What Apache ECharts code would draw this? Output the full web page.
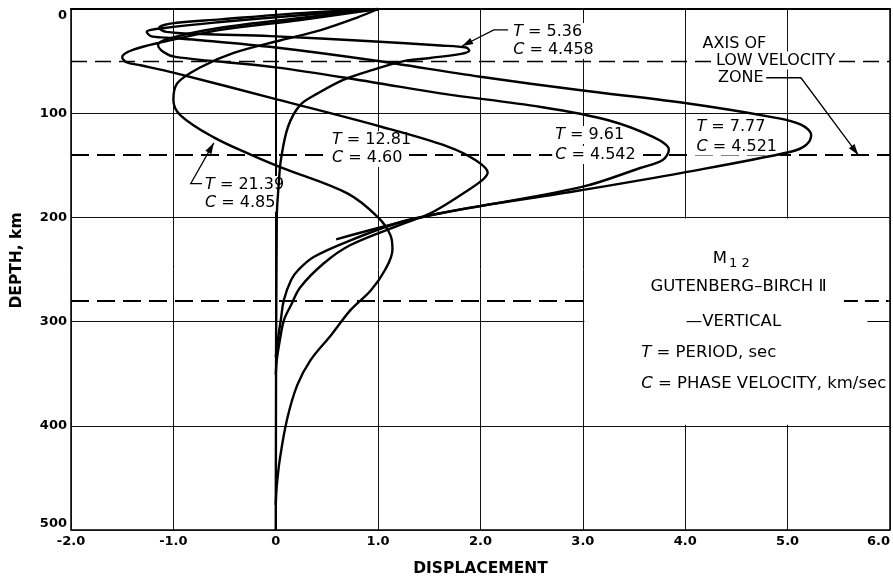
<!DOCTYPE html>
<html><head><meta charset="utf-8">
<script src="https://cdn.jsdelivr.net/npm/echarts@6/dist/echarts.min.js"></script>
<style>html,body{margin:0;padding:0;background:#fff}#c{width:893px;height:577px}</style>
</head><body><div id="c"></div>
<script>
// ---- data (displacement, depth km) ----
const xTickValues = [-2, -1, 0, 1, 2, 3, 4, 5, 6];
const yTickValues = [0, 100, 200, 300, 400, 500];
const dashedDepths = [50, 140, 280];

const curveT536 = [[1.0,0],[0.24,4],[-0.54,10],[-1.03,14],[-1.14,18],[-1.07,22],[-0.73,24],[-0.05,26],[0.93,31],[1.61,35],[1.86,37],[1.89,40],[1.81,43],[1.51,47],[1.25,50],[0.93,59],[0.66,68],[0.41,81],[0.24,92],[0.12,113],[0.05,145],[0.03,167],[0.01,200],[0,500]];
const curveT777 = [[1.0,0],[0.24,6],[-0.54,12.5],[-1.07,18],[-1.26,22],[-1.22,26],[-1.07,27.5],[-0.73,30],[0,37],[0.93,49],[2.0,65],[2.98,78],[3.98,90],[4.86,104],[5.13,111],[5.23,121],[5.18,130.5],[5.03,137],[3.98,157],[2.98,174],[1.61,196],[0.59,221]];
const curveT961 = [[1.0,0],[0.24,8.6],[-0.54,18],[-1.03,28],[-1.15,34.5],[-1.10,41],[-0.98,46],[0,56],[0.93,70],[1.61,81],[2.59,94],[3.24,106.5],[3.69,123],[3.84,135],[3.78,145],[3.56,152.6],[2.98,171],[1.61,196],[1.22,204.4],[0.73,222],[0.37,238],[0.22,250.5],[0.15,260],[0.08,279],[0.05,298],[0.02,318],[0,334]];
const curveT1281 = [[1.0,0],[0.24,10.5],[-0.54,20],[-1.12,32],[-1.39,39],[-1.5,46],[-1.46,51],[-1.32,54],[-1.0,61],[0.02,87],[1.03,113],[1.68,132],[1.95,145],[2.07,157],[2.02,164],[1.83,177],[1.51,196],[1.22,207],[0.73,226.5],[0.47,244],[0.24,267],[0.15,284],[0.08,298.5],[0.04,318],[0.01,337],[0,351]];
const curveT2139 = [[1.0,0],[0.8,8],[0.44,20.2],[0.05,30],[-0.41,42.2],[-0.73,55.7],[-0.96,71],[-1.0,87],[-0.93,102],[-0.61,123],[-0.24,140],[0.05,152],[0.70,177],[1.0,200],[1.12,217],[1.14,231],[1.07,250],[0.93,270],[0.73,289],[0.54,313],[0.34,337],[0.21,361],[0.11,394],[0.04,432],[0.01,458],[0,476]];

// ---- annotations (data coords) ----
const labelFont = "'DejaVu Sans', sans-serif";
const annotations = [
  {t:'{i|T} = 5.36', at:[2.29,22]}, {t:'{i|C} = 4.458', at:[2.29,39]},
  {t:'AXIS OF', at:[4.14,33]}, {t:'LOW VELOCITY', at:[4.27,49.5]}, {t:'ZONE', at:[4.29,66]},
  {t:'{i|T} = 7.77', at:[4.08,113]}, {t:'{i|C} = 4.521', at:[4.08,132]},
  {t:'{i|T} = 9.61', at:[2.70,121]}, {t:'{i|C} = 4.542', at:[2.70,140]},
  {t:'{i|T} = 12.81', at:[0.52,126]}, {t:'{i|C} = 4.60', at:[0.52,143]},
  {t:'{i|T} = 21.39', at:[-0.72,169]}, {t:'{i|C} = 4.85', at:[-0.72,186]}
];
const legendLines = [
  {t:'M{s|1 2}', at:[4.45,240], align:'center'},
  {t:'GUTENBERG\u2013BIRCH \u2161', at:[4.52,267], align:'center'},
  {t:'\u2014VERTICAL', at:[4.47,300], align:'center'},
  {t:'{i|T} = PERIOD, sec', at:[3.57,330], align:'left'},
  {t:'{i|C} = PHASE VELOCITY, km/sec', at:[3.57,359.5], align:'left'}
];
const leaders = [
  [[2.27,20],[2.13,20],[1.82,35.5]],
  [[4.79,66],[5.13,66],[5.69,140]],
  [[-0.72,167.5],[-0.83,167.5],[-0.605,128.5]]
];

const chart = echarts.init(document.getElementById('c'));
const curveStyle = {color:'#000', width:2.4};
function curve(name, data){
  return {name, type:'line', data, showSymbol:false, smooth:0.35, z:4,
    lineStyle:curveStyle, silent:true, animation:false};
}
const axisFont = "'DejaVu Sans', sans-serif";
chart.setOption({
  animation:false,
  backgroundColor:'#fff',
  grid:{left:71, right:3, top:9, bottom:47, outerBoundsMode:'none', containLabel:false,
    show:true, borderColor:'#000', borderWidth:1.5, backgroundColor:'transparent'},
  xAxis:{type:'value', min:-2, max:6, interval:1,
    axisLine:{show:true, lineStyle:{color:'#000', width:2}}, axisTick:{show:false},
    splitLine:{show:true, lineStyle:{color:'#111', width:1}},
    axisLabel:{color:'#000', fontWeight:'bold', fontSize:13, margin:5, fontFamily:axisFont,
      alignMaxLabel:'right', formatter:v=> v===0 ? '0' : v.toFixed(1)},
    name:'DISPLACEMENT', nameLocation:'middle', nameGap:31,
    nameTextStyle:{color:'#000', fontWeight:'bold', fontSize:15.5, fontFamily:axisFont}},
  yAxis:{type:'value', inverse:true, min:0, max:500, interval:100,
    axisLine:{show:true, lineStyle:{color:'#000', width:1.5}}, axisTick:{show:false},
    splitLine:{show:true, lineStyle:{color:'#111', width:1}},
    axisLabel:{color:'#000', fontWeight:'bold', fontSize:13, margin:4, fontFamily:axisFont,
      verticalAlignMinLabel:'top', verticalAlignMaxLabel:'bottom'},
    name:'DEPTH, km', nameLocation:'middle', nameGap:46, nameRotate:90,
    nameTextStyle:{color:'#000', fontWeight:'bold', fontSize:15.5, fontFamily:axisFont, padding:[0,0,0,18]}},
  series:[
    {type:'line', data:[], z:2, silent:true,
      markLine:{z:2, symbol:'none', silent:true, label:{show:false}, animation:false,
        data:[
          {yAxis:dashedDepths[0], lineStyle:{color:'#000', width:1.3, type:[16,8]}},
          {yAxis:dashedDepths[1], lineStyle:{color:'#000', width:2, type:[18,8]}},
          {yAxis:dashedDepths[2], lineStyle:{color:'#000', width:2, type:[18,8]}},
          {xAxis:0, lineStyle:{color:'#000', width:2, type:'solid'}}
        ]}},
    {type:'line', data:[], z:3, silent:true,
      markArea:{z:3, silent:true, itemStyle:{color:'#fff'}, label:{show:false},
        data:[[{coord:[3.015,201]},{coord:[5.985,399]}]]},
      markLine:{z:4, symbol:'none', silent:true, label:{show:false}, animation:false,
        data:[
          [{coord:[5.55,280], lineStyle:{color:'#000', width:2, type:[14,7]}},{coord:[5.985,280]}],
          [{coord:[5.78,300], lineStyle:{color:'#000', width:1, type:'solid'}},{coord:[5.985,300]}]
        ]}},
    curve('T=5.36', curveT536),
    curve('T=7.77', curveT777),
    curve('T=9.61', curveT961),
    curve('T=12.81', curveT1281),
    curve('T=21.39', curveT2139)
  ]
});

function px(p){ return chart.convertToPixel({gridIndex:0}, p); }
const els = [];
annotations.forEach(a=>{
  const p = px(a.at);
  els.push({type:'text', x:p[0], y:p[1], z:3,
    style:{text:a.t, fill:'#000', font:"16px "+labelFont, align:'left', verticalAlign:'middle',
      backgroundColor:'#fff', padding:[1,3,1,3],
      rich:{i:{fontStyle:'italic', fontSize:16, fontFamily:labelFont}}}});
});
legendLines.forEach(a=>{
  const p = px(a.at);
  els.push({type:'text', x:p[0], y:p[1], z:6,
    style:{text:a.t, fill:'#000', font:"16.5px "+labelFont, align:a.align, verticalAlign:'middle',
      rich:{i:{fontStyle:'italic', fontSize:16.5, fontFamily:labelFont},
            s:{fontSize:13, fontFamily:labelFont, padding:[10,0,0,2]}}}});
});
leaders.forEach(L=>{
  const pts = L.map(px);
  els.push({type:'polyline', z:5, shape:{points:pts, smooth:0}, style:{stroke:'#000', lineWidth:1.3, fill:null}});
  const a = pts[pts.length-1], b = pts[pts.length-2];
  const ang = Math.atan2(a[1]-b[1], a[0]-b[0]);
  const len = 11, w = 3.5;
  const bx = a[0]-len*Math.cos(ang), by = a[1]-len*Math.sin(ang);
  els.push({type:'polygon', z:5, shape:{points:[a,[bx+w*Math.sin(ang), by-w*Math.cos(ang)],[bx-w*Math.sin(ang), by+w*Math.cos(ang)]]}, style:{fill:'#000'}});
});
chart.setOption({graphic:{elements:els}});
</script></body></html>
